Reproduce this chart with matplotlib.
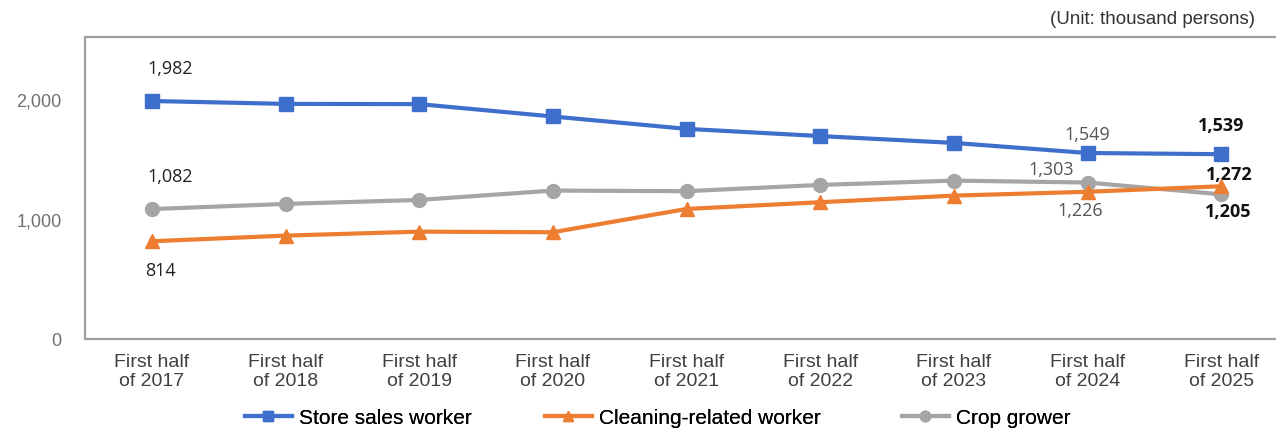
import matplotlib
matplotlib.use("Agg")
import matplotlib.pyplot as plt

categories = ["First half\nof 2017", "First half\nof 2018", "First half\nof 2019", "First half\nof 2020",
              "First half\nof 2021", "First half\nof 2022", "First half\nof 2023", "First half\nof 2024",
              "First half\nof 2025"]
store_sales = [1982, 1958, 1956, 1853, 1750, 1690, 1633, 1549, 1539]
cleaning = [814, 861, 894, 889, 1083, 1139, 1194, 1226, 1272]
crop_grower = [1082, 1125, 1158, 1236, 1231, 1283, 1319, 1303, 1205]
series_names = ["Store sales worker", "Cleaning-related worker", "Crop grower"]
yticks = [0, 1000, 2000]
ytick_labels = ["0", "1,000", "2,000"]

plt.rcParams['font.family'] = ['Liberation Sans', 'DejaVu Sans']

W, H = 1276, 431
fig = plt.figure(figsize=(W / 100, H / 100), dpi=100)
left, right, top, bottom = 85, 1288, 38, 340
ax = fig.add_axes([left / W, 1 - bottom / H, (right - left) / W, (bottom - top) / H])

x = list(range(len(categories)))
c_blue, c_orange, c_gray = "#3F6FCC", "#ED7D31", "#A5A5A5"
l_gray, = ax.plot(x, crop_grower, color=c_gray, lw=3, marker="o", ms=10, zorder=3)
l_orange, = ax.plot(x, cleaning, color=c_orange, lw=3, marker="^", ms=10, zorder=4)
l_blue, = ax.plot(x, store_sales, color=c_blue, lw=3, marker="s", ms=10, zorder=5)

ax.set_xlim(-0.5, 8.5)
ax.set_ylim(0, 2515)
ax.set_yticks(yticks)
ax.set_yticklabels(ytick_labels)
ax.set_xticks(x)
ax.set_xticklabels(categories)
ax.tick_params(axis="both", length=0)
ax.tick_params(axis="y", pad=17, labelsize=13, labelcolor="#707070")
ax.tick_params(axis="x", pad=10, labelsize=14, labelcolor="#404040")
for s in ax.spines.values():
    s.set_color("#A0A0A0")
    s.set_linewidth(1.6)

def lab(i, vals, dx, dy, bold=False, color="#222222"):
    ax.annotate(f"{vals[i]:,}", (x[i], vals[i]), xytext=(dx, dy), textcoords="offset points",
                va="center", ha="center", fontsize=13, color=color,
                fontweight="bold" if bold else "normal", family=["Open Sans", "DejaVu Sans"])

lab(0, store_sales, 13, 24)
lab(0, crop_grower, 13, 24)
lab(0, cleaning, 6, -21)
lab(7, store_sales, 0, 14, color="#555555")
lab(7, crop_grower, -26, 10, color="#555555")
lab(7, cleaning, -5, -13, color="#555555")
lab(8, store_sales, 0, 21, bold=True, color="#111111")
lab(8, cleaning, 6, 9, bold=True, color="#111111")
lab(8, crop_grower, 5, -12, bold=True, color="#111111")

fig.text(1255 / W, 1 - 20 / H, "(Unit: thousand persons)", ha="right", va="center", fontsize=13.5, color="#333333")

legend_x = [245, 545, 902]
for lx, h, name in zip(legend_x, [l_blue, l_orange, l_gray], series_names):
    lg = fig.legend([h], [name], loc="center left", bbox_to_anchor=(lx / W, 1 - 419 / H),
                    frameon=False, fontsize=15, handlelength=2.25, handletextpad=0.35,
                    borderpad=0, borderaxespad=0, markerscale=0.75)
    fig.add_artist(lg)

fig.savefig("out.png", dpi=100)
